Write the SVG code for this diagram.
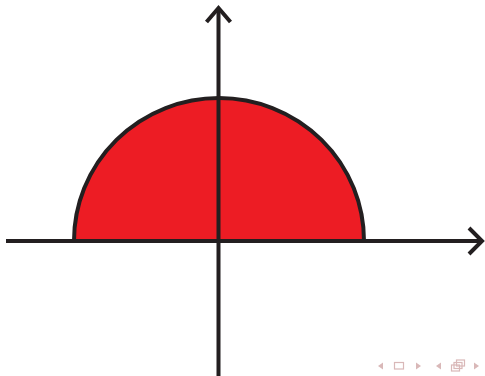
<svg xmlns="http://www.w3.org/2000/svg" width="485" height="376" viewBox="0 0 485 376">
<style>
.ax{stroke:#231f20;stroke-width:4;fill:none;stroke-linecap:butt}
.nav{fill:#d9b8b8;stroke:none}
.navs{fill:none;stroke:#d9b8b8;stroke-width:1.2}
</style>
<rect width="485" height="376" fill="#fff"/>
<g id="halfdisk">
<path d="M74,241 A145,143 0 0 1 364,241 Z" fill="#ed1c24" stroke="#231f20" stroke-width="4"/>
</g>
<g id="axes">
<line class="ax" x1="6" y1="241" x2="482" y2="241"/>
<polyline class="ax" points="469,228 482,241 469,254"/>
<line class="ax" x1="218.5" y1="376" x2="218.5" y2="8"/>
<polyline class="ax" points="206.5,22 218.5,8 230.5,22"/>
</g>
<g id="nav">
<polygon class="nav" points="378,366 383,362.5 383,369.5"/>
<rect class="navs" x="394.5" y="362.5" width="9" height="6.5"/>
<polygon class="nav" points="421,366 416,362.5 416,369.5"/>
<polygon class="nav" points="436,366 441,362.5 441,369.5"/>
<rect class="navs" x="451.5" y="365" width="8" height="6"/>
<rect class="navs" x="454" y="362.5" width="8" height="6" fill="#fff"/>
<rect class="navs" x="456.5" y="360" width="8" height="6" fill="#fff"/>
<polygon class="nav" points="479,366 474,362.5 474,369.5"/>
</g>
</svg>
